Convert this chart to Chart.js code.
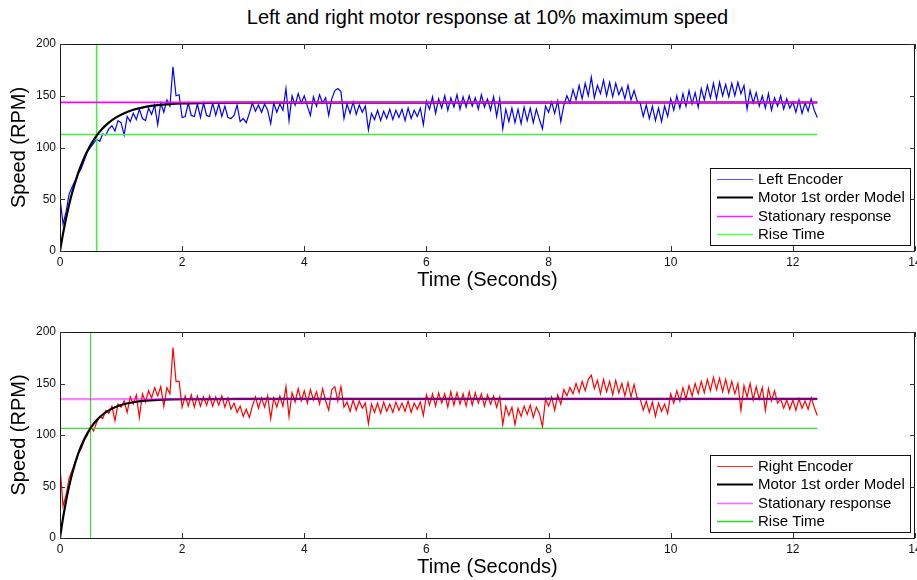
<!DOCTYPE html>
<html><head><meta charset="utf-8">
<script src="https://cdn.jsdelivr.net/npm/chart.js@4.4.0/dist/chart.umd.min.js"></script>
<style>
html,body{margin:0;padding:0;background:#fff;}
#wrap{position:relative;width:917px;height:580px;overflow:hidden;font-family:"Liberation Sans",Arial,sans-serif;}
#title{position:absolute;left:60px;width:855px;top:6px;text-align:center;font-size:20px;color:#000;line-height:23px;}
canvas{position:absolute;left:0;}
</style></head><body>
<div id="wrap">
<div id="title">Left and right motor response at 10% maximum speed</div>
<canvas id="c1" width="917" height="295" style="top:0;width:917px;height:295px"></canvas>
<canvas id="c2" width="917" height="285" style="top:295px;width:917px;height:285px"></canvas>
</div>
<script>
// ---- data ----
const leftEncoder = [
51,26,38,55,62,68,75,80,88,96,
100,104,108,106,113,112,118,121,116,126,
124,112,130,125,133,127,137,128,126,138,
132,141,122,143,134,146,140,178,150,151,
129,130,143,131,130,142,129,143,131,130,
143,131,142,130,140,129,128,131,141,125,
128,124,133,143,135,141,134,142,136,123,
143,134,142,136,157,126,150,141,152,143,
150,140,131,149,140,151,143,148,131,147,
155,157,154,128,142,133,144,132,141,134,
140,117,133,127,136,126,135,128,137,127,
136,129,137,126,138,128,136,130,138,122,
145,137,149,133,147,138,150,136,148,139,
151,137,149,139,150,140,148,137,151,139,
147,136,149,130,147,118,137,125,138,124,
137,123,139,126,138,124,137,127,118,140,
134,144,133,145,125,141,150,143,156,146,
160,147,162,150,168,148,160,152,165,150,
163,149,162,151,158,147,160,146,155,145,
143,130,141,128,140,126,138,125,140,130,
147,136,150,138,152,140,155,142,153,139,
157,146,160,148,162,147,163,150,161,149,
162,150,163,152,160,137,155,143,153,140,
150,138,152,136,148,140,150,137,147,138,
144,134,146,133,143,135,147,136,
129];
const rightEncoder = [
69,31,42,58,66,74,82,87,95,100,
108,104,112,118,116,124,121,128,114,130,
127,133,122,137,130,139,117,140,132,143,
136,146,138,147,128,146,140,185,152,152,
127,138,128,139,127,138,128,137,129,138,
128,137,129,138,127,136,125,131,122,128,
118,125,117,128,137,126,136,127,138,116,
136,127,138,128,147,118,141,132,145,133,
143,131,144,134,142,130,145,133,124,144,
147,133,147,127,132,123,134,124,133,126,
131,111,130,122,131,121,132,123,130,122,
132,124,131,123,133,122,131,125,132,119,
139,129,140,128,141,131,140,127,142,129,
141,130,140,128,142,129,141,131,140,128,
139,130,138,127,137,110,128,119,127,110,
126,118,128,120,129,117,127,121,108,135,
128,137,124,139,130,144,138,146,140,150,
141,152,143,154,158,145,153,140,154,142,
152,139,153,141,150,138,151,137,149,136,
135,124,133,122,132,118,131,123,130,121,
140,131,143,133,146,135,148,138,150,140,
152,141,154,143,156,144,155,142,154,141,
152,140,150,124,148,137,150,134,147,135,
146,124,145,133,143,131,135,126,134,125,
134,124,135,126,133,125,136,127,
119];
const sampleTimes = leftEncoder.map((_, i) => Math.round(i * 5) / 100); // 0.05 s sampling
const modelTimes = [0,0.05,0.1,0.15,0.2,0.3,0.4,0.5,0.6,0.7,0.8,0.9,1.0,1.2,1.4,1.6,1.8,2.0,2.4,3.0,12.4];
const leftModel  = [0,16.9,31.7,44.9,56.5,75.7,90.7,102.4,111.5,118.6,124.1,128.4,131.7,136.4,139.2,140.9,141.9,142.5,143.1,143.4,143.5];
const rightModel = [0,19.5,36.2,50.5,62.7,82.1,96.3,106.7,114.3,119.9,123.9,126.9,129.1,131.8,133.3,134.1,134.5,134.7,134.9,135.0,135.0];
const stationaryLevels = [143.6, 134.8];   // left, right
const riseLevels = [112.6, 106.4];         // left, right
const riseTimes = [0.6, 0.5];              // left, right
const endTime = 12.4;
const encoderLabels = ['Left Encoder', 'Right Encoder'];
const seriesLabels = ['Motor 1st order Model', 'Stationary response', 'Rise Time'];
const xAxisLabel = 'Time (Seconds)';
const yAxisLabel = 'Speed (RPM)';

Chart.defaults.font.family = "'Liberation Sans', Arial, Helvetica, sans-serif";
Chart.defaults.color = '#000';

const framePlugin = {
  id: 'frame',
  afterDatasetsDraw(chart) {
    const {ctx, chartArea: a, scales} = chart;
    ctx.save();
    ctx.strokeStyle = '#1a1a1a';
    ctx.lineWidth = 1;
    ctx.strokeRect(Math.round(a.left) + 0.5, Math.round(a.top) + 0.5, Math.round(a.right - a.left) - 1, Math.round(a.bottom - a.top));
    ctx.strokeStyle = '#333';
    const L = 5;
    scales.x.ticks.forEach(t => {
      const px = Math.round(scales.x.getPixelForValue(t.value)) + 0.5;
      ctx.beginPath();
      ctx.moveTo(px, a.bottom); ctx.lineTo(px, a.bottom - L);
      ctx.moveTo(px, a.top); ctx.lineTo(px, a.top + L);
      ctx.stroke();
    });
    scales.y.ticks.forEach(t => {
      const py = Math.round(scales.y.getPixelForValue(t.value)) + 0.5;
      ctx.beginPath();
      ctx.moveTo(a.left, py); ctx.lineTo(a.left + L, py);
      ctx.moveTo(a.right, py); ctx.lineTo(a.right - L, py);
      ctx.stroke();
    });
    ctx.restore();
  }
};

const legendPlugin = {
  id: 'boxLegend',
  afterDraw(chart) {
    const {ctx, chartArea: a} = chart;
    const w = 200, h = 77;
    const right = a.right - 5, bottom = a.bottom - 6;
    const left = right - w, top = bottom - h;
    ctx.save();
    ctx.fillStyle = '#fff';
    ctx.fillRect(left, top, w, h);
    ctx.strokeStyle = '#111';
    ctx.lineWidth = 1;
    ctx.strokeRect(Math.round(left) + 0.5, Math.round(top) + 0.5, w, h);
    ctx.font = "15px 'Liberation Sans', Arial, sans-serif";
    ctx.textBaseline = 'middle';
    chart.data.datasets.forEach((ds, i) => {
      const y = Math.round(top + 10.5 + i * 18.5) + 0.5;
      ctx.strokeStyle = ds.legendColor || ds.borderColor;
      ctx.lineWidth = ds.legendWidth || 1;
      ctx.beginPath();
      ctx.moveTo(left + 7, y); ctx.lineTo(left + 43, y);
      ctx.stroke();
      ctx.fillStyle = '#000';
      ctx.fillText(ds.label, left + 48, y + 0.5);
    });
    ctx.restore();
  }
};

function buildChart(canvasId, idx, encColor, opts) {
  const enc = (idx === 0 ? leftEncoder : rightEncoder).map((v, i) => ({x: sampleTimes[i], y: v}));
  const model = (idx === 0 ? leftModel : rightModel).map((v, i) => ({x: modelTimes[i], y: v}));
  const st = stationaryLevels[idx];
  const rl = riseLevels[idx], rt = riseTimes[idx];
  return new Chart(document.getElementById(canvasId), {
    type: 'line',
    data: {
      datasets: [
        {label: encoderLabels[idx], data: enc, borderColor: encColor, borderWidth: 1.2, pointRadius: 0, order: 5,
         legendColor: opts.encLegend, legendWidth: 1},
        {label: seriesLabels[0], data: model, borderColor: '#000', borderWidth: 2.2, pointRadius: 0, order: 3,
         cubicInterpolationMode: 'monotone', legendWidth: 2},
        {label: seriesLabels[1], data: [{x: 0, y: st}, {x: endTime, y: st}], borderColor: opts.statColor,
         borderWidth: opts.statWidth, pointRadius: 0, order: 2, legendColor: opts.statLegend, legendWidth: 1.3},
        {label: seriesLabels[2], data: [{x: 0, y: rl}, {x: endTime, y: rl}, {x: rt, y: null}, {x: rt, y: 0}, {x: rt, y: 200}],
         borderColor: opts.riseColor, borderWidth: opts.riseWidth, pointRadius: 0, order: 4, spanGaps: false,
         legendColor: opts.riseLegend, legendWidth: 1.3}
      ]
    },
    options: {
      responsive: false, animation: false, devicePixelRatio: 1,
      layout: {padding: {top: opts.padTop, right: 2, left: 0, bottom: 0}},
      plugins: {legend: {display: false}, tooltip: {enabled: false}, title: {display: false}},
      scales: {
        x: {
          type: 'linear', min: 0, max: 14,
          ticks: {stepSize: 2, font: {size: 12}, color: '#111', padding: 4, maxRotation: 0, autoSkip: false},
          grid: {display: false, drawTicks: false, tickLength: 0},
          border: {display: false},
          title: {display: true, text: xAxisLabel, font: {size: 20}, color: '#000', padding: {top: 0, bottom: opts.xTitlePad}},
          afterFit(s) { s.height = opts.xHeight; s.paddingLeft = 0; s.paddingRight = 0; }
        },
        y: {
          min: 0, max: 200,
          ticks: {stepSize: 50, font: {size: 12}, color: '#111', padding: 4},
          grid: {display: false, drawTicks: false, tickLength: 0},
          border: {display: false},
          title: {display: true, text: yAxisLabel, font: {size: 20}, color: '#000', padding: {top: 7, bottom: 0}},
          afterFit(s) { s.width = 60; s.paddingTop = 0; s.paddingBottom = 0; }
        }
      }
    },
    plugins: [framePlugin, legendPlugin]
  });
}

buildChart('c1', 0, '#0000ff', {
  encLegend: '#5a5aff', statColor: '#ff00ff', statWidth: 1.6, statLegend: '#ff22ff',
  riseColor: '#44ee44', riseWidth: 1.6, riseLegend: '#55ff55',
  padTop: 44, xHeight: 44, xTitlePad: 3
});
buildChart('c2', 1, '#ff0000', {
  encLegend: '#ff2222', statColor: 'rgba(255,0,255,0.5)', statWidth: 2.2, statLegend: '#ff66ff',
  riseColor: '#33dd33', riseWidth: 1.1, riseLegend: '#22dd22',
  padTop: 37, xHeight: 42, xTitlePad: 1
});
</script>
</body></html>
